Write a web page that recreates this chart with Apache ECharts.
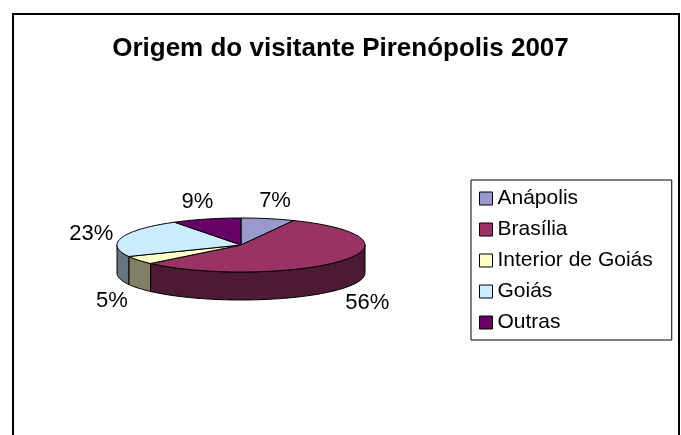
<!DOCTYPE html>
<html>
<head>
<meta charset="utf-8">
<script src="https://cdn.jsdelivr.net/npm/echarts@6/dist/echarts.min.js"></script>
<style>
  html, body { margin: 0; background: #fff; }
  #chart { width: 681px; height: 435px; }
</style>
</head>
<body>
<div id="chart"></div>
<script>
// dados
const categories = ['Anápolis', 'Brasília', 'Interior de Goiás', 'Goiás', 'Outras']
const values = [7, 56, 5, 23, 9]
const colors = ['#9999CC', '#993366', '#FFFFCC', '#CCECFF', '#660066']

// geometria da pizza 3D (pixels)
const cx = 241, cy = 245, rx = 124, ry = 27, depth = 28
const FONT = '"Liberation Sans", Arial, sans-serif'

const total = values.reduce((a, b) => a + b, 0)
const starts = []
let acc = 0
values.forEach(v => { starts.push(acc / total * 360); acc += v })

function pt (deg, dy) {
  const r = deg * Math.PI / 180
  return [cx + rx * Math.sin(r), cy - ry * Math.cos(r) + (dy || 0)]
}
function arc (a0, a1, dy) {
  const pts = []
  const n = Math.max(2, Math.ceil((a1 - a0) / 2))
  for (let i = 0; i <= n; i++) pts.push(pt(a0 + (a1 - a0) * i / n, dy))
  return pts
}
function darken (hex) {
  const n = parseInt(hex.slice(1), 16)
  const r = (n >> 16) & 255, g = (n >> 8) & 255, b = n & 255
  return 'rgb(' + [r, g, b].map(c => Math.round(c * 0.5)).join(',') + ')'
}

function renderSlice (idx) {
  return function (params, api) {
    const v = api.value(0)
    const a0 = starts[idx]
    const a1 = a0 + v / total * 360
    const color = colors[idx]
    const children = []
    // lateral (só a parte da frente)
    const s0 = Math.max(a0, 90), s1 = Math.min(a1, 270)
    if (s1 > s0) {
      const top = arc(s0, s1, 0)
      const bot = arc(s0, s1, depth).reverse()
      children.push({
        type: 'polygon', z2: 1,
        shape: { points: top.concat(bot) },
        style: { fill: darken(color), stroke: '#000', lineWidth: 1 }
      })
    }
    // face superior
    children.push({
      type: 'polygon', z2: 10,
      shape: { points: [[cx, cy]].concat(arc(a0, a1, 0)) },
      style: { fill: color, stroke: '#000', lineWidth: 1 }
    })
    // rótulo
    const mid = (a0 + a1) / 2 * Math.PI / 180
    const sn = Math.sin(mid), cs = Math.cos(mid)
    const ax = cx + (rx + 8) * sn
    const ay = cy - (ry + 8) * cs + (cs < 0 ? depth : 0)
    children.push({
      type: 'text', z2: 20,
      x: ax + sn * 24, y: ay - cs * 12 + 2,
      style: {
        text: v + '%', fill: '#000', align: 'center', verticalAlign: 'middle',
        font: '22px ' + FONT
      }
    })
    return { type: 'group', children }
  }
}

const chart = echarts.init(document.getElementById('chart'))
const option = {
  animation: false,
  backgroundColor: '#fff',
  title: {
    text: 'Origem do visitante Pirenópolis 2007',
    left: 'center',
    top: 31,
    textStyle: { color: '#000', fontSize: 26, fontWeight: 'bold', fontFamily: FONT }
  },
  legend: {
    orient: 'vertical',
    left: 471,
    top: 180,
    padding: [8, 19, 7, 8],
    itemGap: 10,
    itemWidth: 13,
    itemHeight: 13,
    icon: 'rect',
    borderColor: '#000',
    borderWidth: 1,
    itemStyle: { borderColor: '#000', borderWidth: 1 },
    textStyle: { color: '#000', fontSize: 21, fontFamily: FONT },
    data: categories
  },
  graphic: [{
    type: 'rect',
    shape: { x: 13, y: 14, width: 666, height: 440 },
    style: { fill: 'none', stroke: '#000', lineWidth: 2 }
  }],
  series: categories.map((name, i) => ({
    type: 'custom',
    name: name,
    coordinateSystem: 'none',
    itemStyle: { color: colors[i] },
    renderItem: renderSlice(i),
    data: [[values[i]]]
  }))
}
chart.setOption(option)
</script>
</body>
</html>
